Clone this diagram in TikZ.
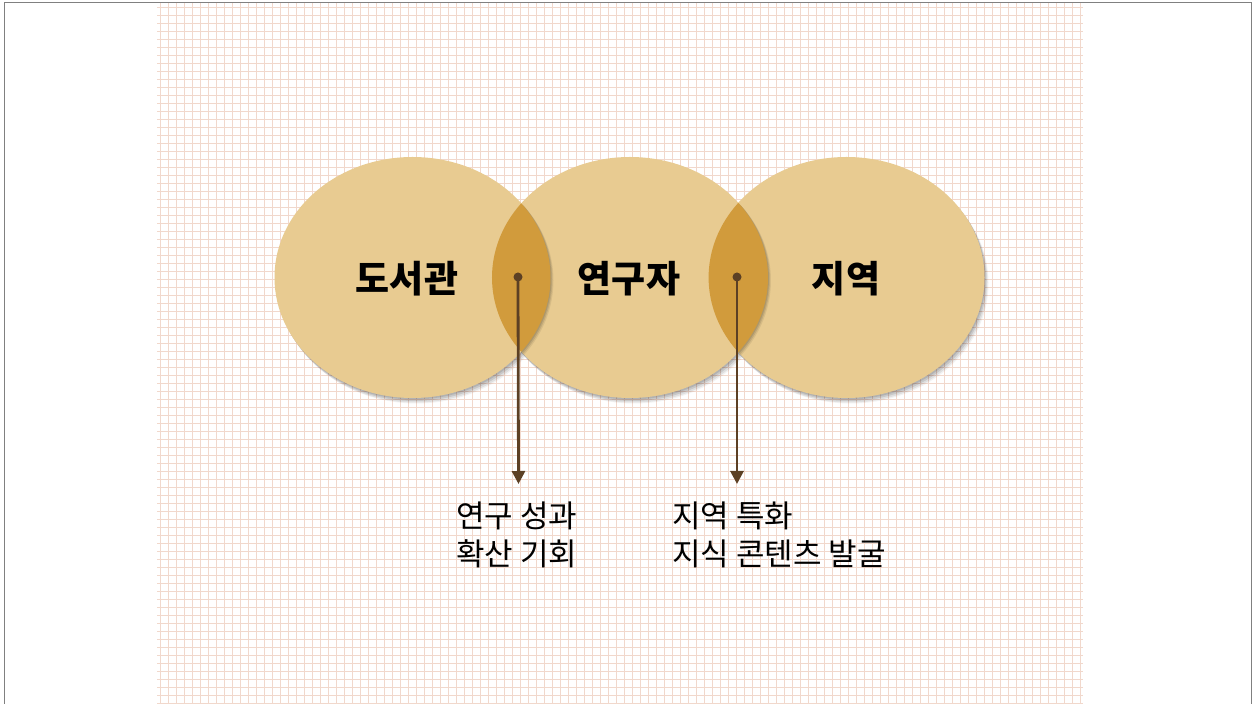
\documentclass[tikz,border=0pt]{standalone}
\usepackage{fontspec}
\newfontfamily\kr{Noto Sans CJK KR}
\usetikzlibrary{shapes.geometric,arrows.meta}
\definecolor{gridc}{RGB}{241,216,204}
\definecolor{circfill}{RGB}{232,203,145}
\definecolor{lensfill}{RGB}{209,155,60}
\definecolor{arrowc}{RGB}{92,64,36}
\definecolor{framec}{RGB}{128,128,128}
\newcommand\myLensOne{(412.5,426.5) ++(-38:138 and 120.5)
  arc[start angle=-38, end angle=38, x radius=138, y radius=120.5]
  arc[start angle=142, end angle=218, x radius=138, y radius=120.5] -- cycle}
\newcommand\myLensTwo{(630,426.5) ++(-38.3:138 and 120.5)
  arc[start angle=-38.3, end angle=38.3, x radius=138, y radius=120.5]
  arc[start angle=141.7, end angle=218.3, x radius=138, y radius=120.5] -- cycle}
\tikzset{
  circ/.style={ellipse, fill=circfill, minimum width=276pt, minimum height=241pt, inner sep=0pt},
  circshadow/.style={ellipse, fill=black, minimum width=276pt, minimum height=241pt, inner sep=0pt},
  lens/.style={fill=lensfill},
  label/.style={font=\kr\bfseries\fontsize{37}{40}\selectfont, inner sep=0pt, text=black},
  dotn/.style={circle, fill=arrowc, minimum size=9pt, inner sep=0pt},
  pointer/.style={draw=arrowc, line width=2.8pt, -{Triangle[length=13pt, width=13pt]}},
  note/.style={font=\kr\fontsize{31}{38}\selectfont, align=left, anchor=west, inner sep=0pt, text=black}
}
\begin{document}
\begin{tikzpicture}[x=1pt,y=1pt]
\useasboundingbox (0,0) rectangle (1254,704);
\fill[white] (0,0) rectangle (1254,704);
% grid background (pixel aligned)
\foreach \k in {0,...,115}{
  \draw[gridc, line width=1pt] ({160.5+8*\k},0) -- ({160.5+8*\k},701);
}
\foreach \k in {0,...,87}{
  \draw[gridc, line width=1pt] (157,{0.5+8*\k}) -- (1083,{0.5+8*\k});
}
% frame
\draw[framec, line width=1.5pt] (4.5,0) -- (4.5,701.5) -- (1251.5,701.5) -- (1251.5,0);
% soft shadows of the circles
\foreach \cx in {412.5,630,846.5}{
  \foreach \dx/\dy/\op in {1/-1.5/0.10, 2/-3/0.10, 3/-4.5/0.08, 4/-5.5/0.05}{
    \node[circshadow, opacity=\op] at (\cx+\dx,426.5+\dy) {};
  }
}
% circles
\node[circ] (lib) at (412.5,426.5) {};
\node[circ] (res) at (630,426.5) {};
\node[circ] (reg) at (846.5,426.5) {};
% lens shadows
\foreach \dx/\dy/\op in {1/-1/0.10, 2/-2/0.10, 3/-3/0.07}{
  \fill[black, opacity=\op, shift={(\dx,\dy)}] \myLensOne;
  \fill[black, opacity=\op, shift={(\dx,\dy)}] \myLensTwo;
}
% lenses
\fill[lens] \myLensOne;
\fill[lens] \myLensTwo;
% labels
\node[label] (libt) at (407,425) {도서관};
\node[label] (rest) at (629,425) {연구자};
\node[label] (regt) at (846,425) {지역};
% dots and arrows
\node[dotn] (d1) at (518,427) {};
\node[dotn] (d2) at (737,427) {};
\coordinate (a1) at (518.5,220);
\coordinate (a2) at (737,220);
\draw[pointer] (d1.center) -- (a1);
\draw[pointer] (d2.center) -- (a2);
% notes
\node[note] (n1) at (456,169) {연구 성과\\확산 기회};
\node[note] (n2) at (672,169) {지역 특화\\지식 콘텐츠 발굴};
\end{tikzpicture}
\end{document}
